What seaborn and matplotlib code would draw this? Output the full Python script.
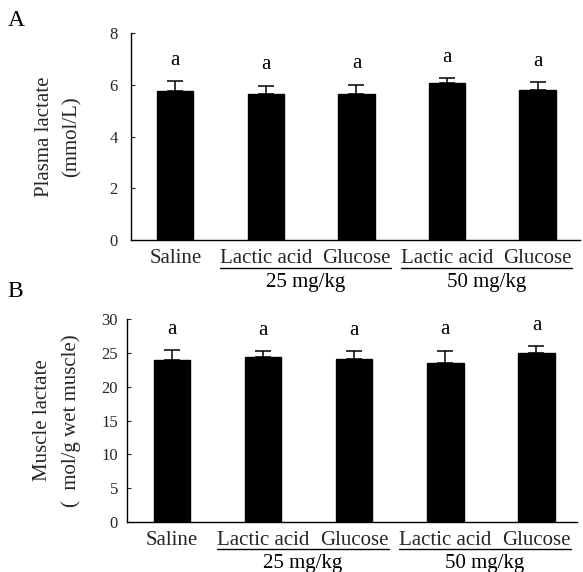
import matplotlib
matplotlib.use("Agg")
import matplotlib.pyplot as plt
import matplotlib.transforms as mtransforms
import numpy as np
import pandas as pd
import seaborn as sns

# groups in plotting order (unique keys) and the labels shown under the bars
groups = ["Saline", "Lactic acid 25", "Glucose 25", "Lactic acid 50", "Glucose 50"]
tick_labels = ["Saline", "Lactic acid", "Glucose", "Lactic acid", "Glucose"]
dose_labels = ["25 mg/kg", "50 mg/kg"]
dose_members = [[1, 2], [3, 4]]

# panel A: plasma lactate (mmol/L)
plasma_mean = [5.77, 5.64, 5.66, 6.05, 5.79]
plasma_sem = [0.37, 0.33, 0.34, 0.20, 0.30]

# panel B: muscle lactate (umol/g wet muscle)
muscle_mean = [23.9, 24.4, 24.1, 23.5, 25.0]
muscle_sem = [1.5, 0.8, 1.1, 1.8, 1.0]

letters = ["a", "a", "a", "a", "a"]

sns.set_style("white")
plt.rcParams["font.family"] = ["Liberation Serif", "DejaVu Serif"]
plt.rcParams["text.color"] = "black"


def draw_panel(ax, mean, sem, ylim, yticks, ylabel, xlim, label_x, ypad):
    df = pd.DataFrame({"group": groups, "value": mean})
    sns.barplot(data=df, x="group", y="value", order=groups, color="black",
                width=0.4, errorbar=None, ax=ax, saturation=1)
    for p in ax.patches:
        p.set_edgecolor("black")
    xs = np.arange(len(groups))
    ax.errorbar(xs, mean, yerr=[np.zeros(len(sem)), sem], fmt="none",
                ecolor="black", elinewidth=1.1, capsize=6, capthick=1.1)
    for x, m, s, t in zip(xs, mean, sem, letters):
        ax.annotate(t, (x, m + s), xytext=(0, 15), textcoords="offset points",
                    ha="center", va="center", fontsize=15)
    ax.set_ylim(*ylim)
    ax.set_xlim(*xlim)
    ax.set_yticks(yticks)
    ax.set_xticks(xs)
    ax.set_xticklabels(tick_labels, fontsize=15)
    ax.tick_params(axis="y", direction="in", length=3, width=0.8,
                   labelsize=12, pad=ypad, left=True)
    ax.tick_params(axis="x", length=0, pad=6.5)
    ax.set_xlabel("")
    ax.set_ylabel(ylabel, fontsize=15, linespacing=1.65, ha="center")
    ax.yaxis.set_label_coords(label_x, 0.5)
    for side in ["top", "right"]:
        ax.spines[side].set_visible(False)
    for side in ["left", "bottom"]:
        ax.spines[side].set_color("black")
        ax.spines[side].set_linewidth(1.0)


def draw_doses(fig, ax):
    # underline spans the tick label text of each dose group
    renderer = fig.canvas.get_renderer()
    inv = ax.transData.inverted()
    labels = ax.get_xticklabels()
    trans = mtransforms.blended_transform_factory(ax.transData, ax.transAxes)
    for lab, members in zip(dose_labels, dose_members):
        bb0 = labels[members[0]].get_window_extent(renderer)
        bb1 = labels[members[-1]].get_window_extent(renderer)
        x0 = inv.transform((bb0.x0, 0))[0]
        x1 = inv.transform((bb1.x1, 0))[0]
        ax.plot([x0, x1], [-0.133, -0.133], color="black", lw=1.0,
                transform=trans, clip_on=False)
        ax.text((x0 + x1) / 2, -0.228, lab, transform=trans, ha="center",
                va="baseline", fontsize=15)


fig = plt.figure(figsize=(5.83, 5.72), dpi=100)
ax_a = fig.add_axes([0.2247, 0.5804, 0.7703, 0.3619])
ax_b = fig.add_axes([0.2178, 0.0874, 0.7719, 0.3549])

draw_panel(ax_a, plasma_mean, plasma_sem, (0, 8), [0, 2, 4, 6, 8],
           "Plasma lactate\n(mmol/L)", (-0.49, 4.47), -0.109, 9.5)
draw_panel(ax_b, muscle_mean, muscle_sem, (0, 30), [0, 5, 10, 15, 20, 25, 30],
           "Muscle lactate\n(  mol/g wet muscle)", (-0.495, 4.445), -0.102, 6.5)

fig.canvas.draw()
draw_doses(fig, ax_a)
draw_doses(fig, ax_b)

fig.text(0.013, 0.965, "A", fontsize=17, ha="left", va="center")
fig.text(0.013, 0.491, "B", fontsize=17, ha="left", va="center")

fig.savefig("out.png", dpi=100, facecolor="white")
